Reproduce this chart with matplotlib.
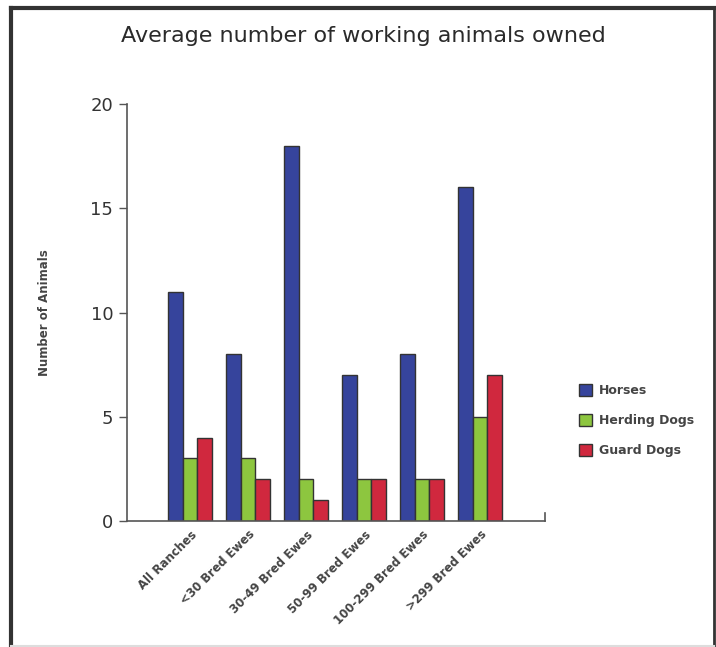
import matplotlib
matplotlib.use("Agg")
import matplotlib.pyplot as plt
import numpy as np
from matplotlib.patches import Rectangle
from matplotlib.lines import Line2D

categories = ["All Ranches", "<30 Bred Ewes", "30-49 Bred Ewes", "50-99 Bred Ewes",
              "100-299 Bred Ewes", ">299 Bred Ewes"]
horses = [11, 8, 18, 7, 8, 16]
herding_dogs = [3, 3, 2, 2, 2, 5]
guard_dogs = [4, 2, 1, 2, 2, 7]
series_names = ["Horses", "Herding Dogs", "Guard Dogs"]
colors = ["#36449C", "#8DC63F", "#D0283E"]
yticks = [0, 5, 10, 15, 20]

plt.rcParams['font.family'] = ['DejaVu Sans']

fig = plt.figure(figsize=(7.16, 6.47), dpi=100)
ax = fig.add_axes([0.1774, 0.1947, 0.5838, 0.6445])

x = np.arange(len(categories))
w = 0.25
series = [horses, herding_dogs, guard_dogs]
for k, (vals, name, col) in enumerate(zip(series, series_names, colors)):
    ax.bar(x + (k - 1) * w, vals, width=w, color=col, edgecolor="#333333",
           linewidth=1.0, label=name, zorder=2)

ax.set_xlim(-1.086, 6.12)
ax.set_ylim(0, 20)
ax.set_yticks(yticks)
ax.set_yticklabels([str(v) for v in yticks], fontsize=13, color="#333333")
ax.tick_params(axis='y', direction='out', length=6, width=1, color="#555555", pad=4)
ax.set_xticks(x)
ax.set_xticklabels(categories, rotation=45, ha='right', rotation_mode='anchor',
                   fontsize=8.5, fontweight='bold', color="#444444")
ax.tick_params(axis='x', length=0, pad=5)
for s in ['top', 'right']:
    ax.spines[s].set_visible(False)
for s in ['left', 'bottom']:
    ax.spines[s].set_color("#555555")
    ax.spines[s].set_linewidth(1.2)
ax.plot([1, 1], [0, 0.02], transform=ax.transAxes, color="#555555", lw=1.2, clip_on=False)

ax.set_ylabel("Number of Animals", fontsize=8.5, fontweight='bold', color="#444444", labelpad=28)

fig.text(0.507, 0.945, "Average number of working animals owned", ha='center', va='center',
         fontsize=16, color="#2a2a2a")

handles = [Rectangle((0, 0), 1, 1, facecolor=c, edgecolor="#333333", lw=1) for c in colors]
leg = fig.legend(handles, series_names, loc='center left', bbox_to_anchor=(0.793, 0.35),
                 frameon=False, fontsize=9, handlelength=1.0, handleheight=1.1,
                 labelspacing=1.35, handletextpad=0.6)
for t in leg.get_texts():
    t.set_fontweight('bold')
    t.set_color("#444444")

# outer frame
fig.add_artist(Line2D([0.0154, 0.0154], [0.0, 0.988], transform=fig.transFigure, color="#333333", lw=3))
fig.add_artist(Line2D([0.0154, 0.997], [0.988, 0.988], transform=fig.transFigure, color="#333333", lw=3))
fig.add_artist(Line2D([0.997, 0.997], [0.0, 0.988], transform=fig.transFigure, color="#333333", lw=2))
fig.add_artist(Line2D([0.0154, 0.997], [0.002, 0.002], transform=fig.transFigure, color="#dddddd", lw=1.5))

fig.savefig("out.png", dpi=100)
